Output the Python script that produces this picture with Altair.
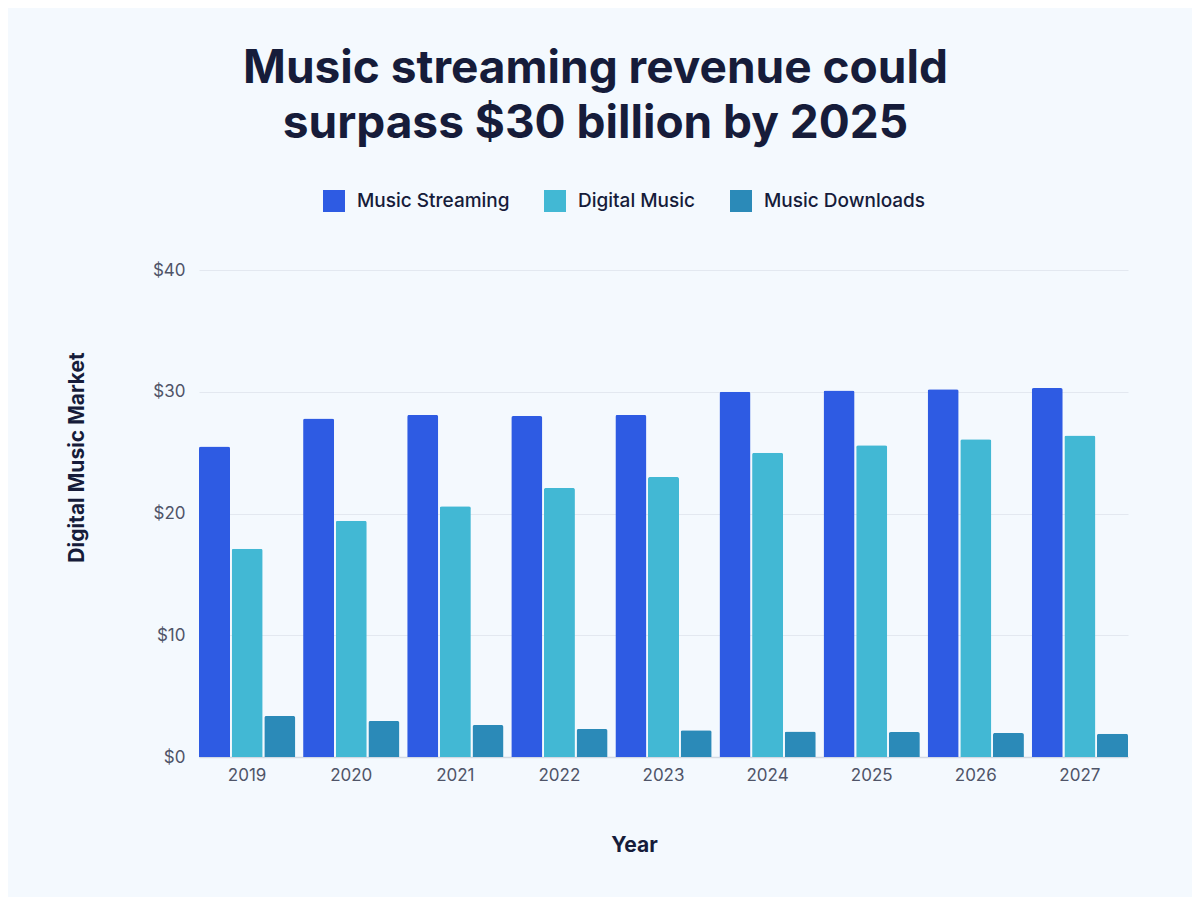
import altair as alt
import pandas as pd

years = ["2019", "2020", "2021", "2022", "2023", "2024", "2025", "2026", "2027"]
series = ["Music Streaming", "Digital Music", "Music Downloads"]
streaming = [25.5, 27.8, 28.1, 28.0, 28.1, 30.0, 30.1, 30.2, 30.3]
digital = [17.1, 19.4, 20.6, 22.1, 23.0, 25.0, 25.6, 26.1, 26.4]
downloads = [3.37, 2.96, 2.63, 2.3, 2.2, 2.1, 2.05, 1.97, 1.9]
colors = ["#2E5BE3", "#42B8D4", "#2B8AB8"]

rows = []
for i, y in enumerate(years):
    for s, vals in zip(series, [streaming, digital, downloads]):
        rows.append({"Year": y, "Series": s, "Value": vals[i]})
df = pd.DataFrame(rows)

FONT = "Inter"
DARK = "#161C3A"

chart = alt.Chart(df).mark_bar(
    cornerRadiusTopLeft=2, cornerRadiusTopRight=2
).encode(
    x=alt.X("Year:N", sort=years,
            scale=alt.Scale(paddingInner=0.075, paddingOuter=0),
            axis=alt.Axis(title="Year", labelAngle=0, labelFontSize=17,
                          labelColor="#4F5468", labelPadding=10, ticks=False,
                          domainColor="#D3D9E3", domainWidth=1.5,
                          titleFontSize=21, titleFontWeight="bold",
                          titleColor=DARK, titleX=435, titleY=88,
                          titleBaseline="middle", titleAnchor="start",
                          titleAlign="center")),
    xOffset=alt.XOffset("Series:N", sort=series,
                        scale=alt.Scale(paddingInner=0.05)),
    y=alt.Y("Value:Q", scale=alt.Scale(domain=[0, 40]),
            axis=alt.Axis(title="Digital Music Market", values=[0, 10, 20, 30, 40],
                          labelExpr="'$' + datum.value", labelFontSize=17,
                          labelColor="#4F5468", labelPadding=14, ticks=False,
                          domain=False, gridColor="#E3E8F0",
                          titleFontSize=21, titleFontWeight="bold",
                          titleColor=DARK, titleAngle=270, titleX=-122,
                          titleY=187, titleAlign="center",
                          titleBaseline="middle")),
    color=alt.Color("Series:N", sort=series,
                    scale=alt.Scale(domain=series, range=colors),
                    legend=alt.Legend(title=None, orient="none",
                                      direction="horizontal",
                                      legendX=124, legendY=-80,
                                      symbolType="square", symbolSize=484,
                                      symbolStrokeWidth=0, symbolOpacity=1,
                                      labelFontSize=19, labelColor=DARK,
                                      labelFontWeight=500, labelLimit=400,
                                      labelOffset=12, columnPadding=34)),
).properties(
    width=929, height=487,
    title=alt.TitleParams(
        text=["Music streaming revenue could", "surpass $30 billion by 2025"],
        fontSize=46, fontWeight="bold", color=DARK, font=FONT,
        anchor="middle", frame="group", dx=-68, offset=42,
        lineHeight=55),
    padding={"left": 191, "top": 262, "right": 64, "bottom": 140},
    autosize=alt.AutoSizeParams(type="none"),
    background="#F4F9FE",
).configure(font=FONT).configure_view(stroke=None)

chart.save("out.html", embed_options={"renderer": "svg", "actions": False})
